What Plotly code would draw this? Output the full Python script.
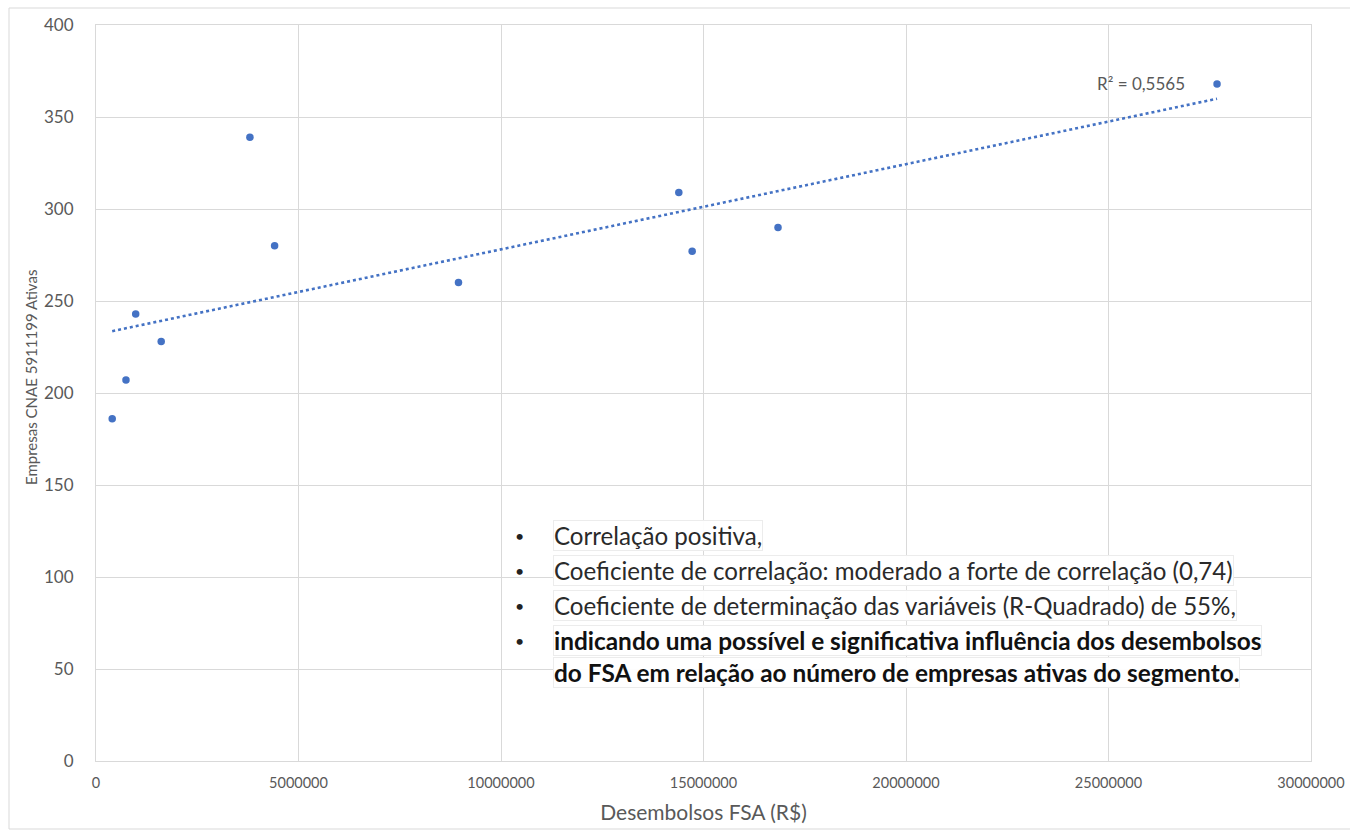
import numpy as np
import plotly.graph_objects as go

# Desembolsos FSA (R$) vs. empresas ativas CNAE 5911199
desembolsos = [400000, 740000, 980000, 1610000, 3800000, 4410000,
               8950000, 14390000, 14720000, 16840000, 27680000]
empresas = [186, 207, 243, 228, 339, 280, 260, 309, 277, 290, 368]

x_ticks = [0, 5000000, 10000000, 15000000, 20000000, 25000000, 30000000]
y_ticks = [0, 50, 100, 150, 200, 250, 300, 350, 400]

r2_label = "R² = 0,5565"
bullet_lines = [
    ("Correlação positiva,", False),
    ("Coeficiente de correlação: moderado a forte de correlação (0,74)", False),
    ("Coeficiente de determinação das variáveis (R-Quadrado) de 55%,", False),
    ("indicando uma possível e significativa influência dos desembolsos", True),
    ("do FSA em relação ao número de empresas ativas do segmento.", True),
]

# linear trend fitted to the points
slope, intercept = np.polyfit(desembolsos, empresas, 1)
trend_x = [min(desembolsos), max(desembolsos)]
trend_y = [slope * v + intercept for v in trend_x]

BLUE = "#4472C4"
GRID = "#d9d9d9"
TXT = "#595959"
FONT = "Lato"

fig = go.Figure()
fig.add_trace(go.Scatter(x=trend_x, y=trend_y, mode="lines",
                         line=dict(color=BLUE, width=2.6, dash="dot"),
                         hoverinfo="skip", showlegend=False))
fig.add_trace(go.Scatter(x=desembolsos, y=empresas, mode="markers",
                         marker=dict(color=BLUE, size=7.5),
                         showlegend=False))

W, H = 1350, 835
L, R, T, B = 96, 39, 25, 74
pw, ph = W - L - R, H - T - B


def px_x(p):
    return (p - L) / pw


def px_y(p):
    return (H - B - p) / ph


fig.update_layout(
    width=W, height=H,
    margin=dict(l=L, r=R, t=T, b=B, autoexpand=False),
    paper_bgcolor="white", plot_bgcolor="white",
    font=dict(family=FONT, color=TXT),
    xaxis=dict(range=[0, 30000000], tickvals=x_ticks,
               ticktext=[str(v) for v in x_ticks],
               tickfont=dict(size=14.5, color=TXT),
               showgrid=True, gridcolor=GRID, gridwidth=1,
               showline=True, linecolor=GRID, mirror=True,
               zeroline=False, ticks="", ticklabelstandoff=9,
               automargin=False,
               title=dict(text="Desembolsos FSA (R$)",
                          font=dict(size=21, color=TXT), standoff=14)),
    yaxis=dict(range=[0, 400], tickvals=y_ticks,
               tickfont=dict(size=17, color=TXT),
               showgrid=True, gridcolor=GRID, gridwidth=1,
               showline=True, linecolor=GRID, mirror=True,
               zeroline=False, ticks="", ticklabelstandoff=18,
               automargin=False),
)

# y-axis title
fig.add_annotation(x=px_x(31), y=px_y(378), xref="paper", yref="paper",
                   text="Empresas CNAE 5911199 Ativas", textangle=-90,
                   showarrow=False, xanchor="center", yanchor="middle",
                   font=dict(size=15, color=TXT, family=FONT))

# outer chart frame
fig.add_shape(type="rect", xref="paper", yref="paper",
              x0=px_x(9), x1=px_x(1352), y0=px_y(829), y1=px_y(8),
              line=dict(color="#d9d9d9", width=1), layer="below")

fig.add_annotation(x=26950000, y=368, xref="x", yref="y", text=r2_label,
                   showarrow=False, xanchor="right", yanchor="middle",
                   font=dict(size=17, color=TXT, family=FONT))

line_y = [535, 570, 605, 640, 672]
for i, ((txt, bold), yp) in enumerate(zip(bullet_lines, line_y)):
    if i < 4:
        fig.add_annotation(x=px_x(519), y=px_y(yp), xref="paper", yref="paper",
                           text="•", showarrow=False, xanchor="center",
                           yanchor="middle",
                           font=dict(size=16, color="#222222", family=FONT))
    fig.add_annotation(x=px_x(553), y=px_y(yp), xref="paper", yref="paper",
                       text=f"<b>{txt}</b>" if bold else txt,
                       showarrow=False, xanchor="left", yanchor="middle",
                       bgcolor="rgba(255,255,255,0.95)",
                       bordercolor="#ececec", borderwidth=1, borderpad=0,
                       font=dict(size=24.4 if bold else 24.1,
                                 color="#111111" if bold else "#2a2a2a",
                                 family=FONT))

fig.write_html("out.html")
